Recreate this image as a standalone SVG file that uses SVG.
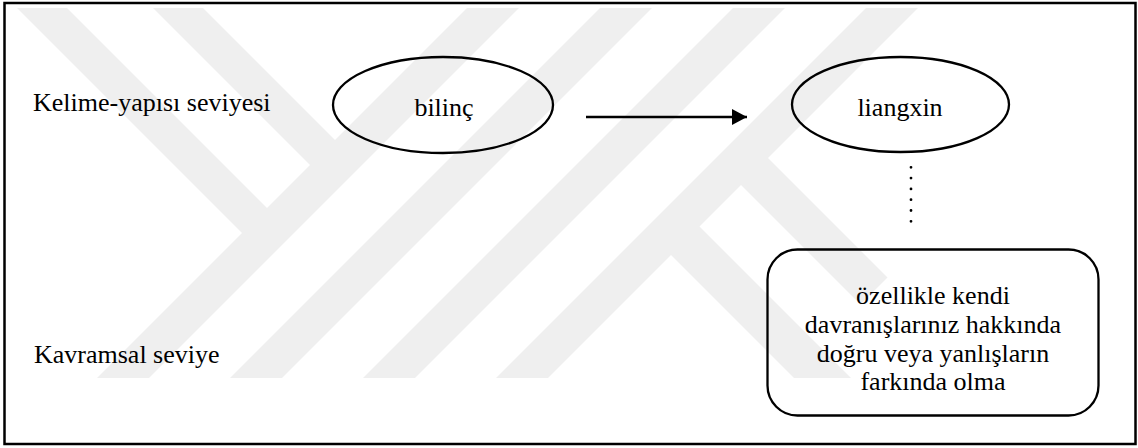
<svg xmlns="http://www.w3.org/2000/svg" width="1138" height="448" viewBox="0 0 1138 448">
  <style>
    text { font-family: 'Liberation Serif', 'Times New Roman', Times, serif; font-size: 26px; fill: #000; }
    .mid { text-anchor: middle; }
    .shape { fill: none; stroke: #000; stroke-width: 2.3; }
    .wm { fill: #efefef; }
  </style>
  <defs>
    <marker id="arrow" markerUnits="userSpaceOnUse" markerWidth="16" markerHeight="17" refX="15" refY="8" orient="auto">
      <path d="M0,0 L15,8 L0,16 Z" fill="#000"/>
    </marker>
    <clipPath id="wmclip">
      <rect x="6" y="8" width="1128" height="370"/>
    </clipPath>
  </defs>

  <rect x="0" y="0" width="1138" height="448" fill="#fff"/>

  <g id="watermark" clip-path="url(#wmclip)">
    <polygon class="wm" points="467,8 519,8 149,378 97,378"/>
    <polygon class="wm" points="600,8 652,8 282,378 230,378"/>
    <polygon class="wm" points="733,8 785,8 415,378 363,378"/>
    <polygon class="wm" points="866,8 918,8 548,378 496,378"/>
    <polygon class="wm" points="17,8 67,8 279.5,220.5 254.5,245.5"/>
    <polygon class="wm" points="153,8 203,8 347.5,152.5 322.5,177.5"/>
    <polygon class="wm" points="765,155 738,182 860.5,304.5 887.5,277.5"/>
    <polygon class="wm" points="696.5,223.5 668,252 794,378 851,378"/>
  </g>

  <rect id="frame" x="4.5" y="3" width="1131" height="441" fill="none" stroke="#000" stroke-width="2.5"/>

  <g id="label-word-level" font-family="Liberation Serif, serif">
    <text x="33" y="111">Kelime-yapısı seviyesi</text>
  </g>
  <g id="label-concept-level" font-family="Liberation Serif, serif">
    <text x="34" y="363">Kavramsal seviye</text>
  </g>

  <g id="node-bilinc">
    <ellipse class="shape" cx="443" cy="105" rx="110" ry="48"/>
    <text class="mid" x="444" y="116">bilinç</text>
  </g>

  <g id="node-liangxin">
    <ellipse class="shape" cx="900.5" cy="104.5" rx="108.5" ry="47.5"/>
    <text class="mid" x="900" y="116">liangxin</text>
  </g>

  <g id="node-meaning">
    <rect class="shape" x="767.5" y="249.5" width="331" height="166" rx="30" ry="30"/>
    <text class="mid" x="933" y="304">özellikle kendi</text>
    <text class="mid" x="933" y="333">davranışlarınız hakkında</text>
    <text class="mid" x="933" y="362">doğru veya yanlışların</text>
    <text class="mid" x="933" y="390">farkında olma</text>
  </g>

  <g id="connectors">
    <line x1="586" y1="117" x2="747" y2="117" stroke="#000" stroke-width="2.3" marker-end="url(#arrow)"/>
    <line x1="911" y1="167.3" x2="911" y2="222" stroke="#000" stroke-width="2.8" stroke-linecap="round" stroke-dasharray="0 10.8"/>
  </g>
</svg>
